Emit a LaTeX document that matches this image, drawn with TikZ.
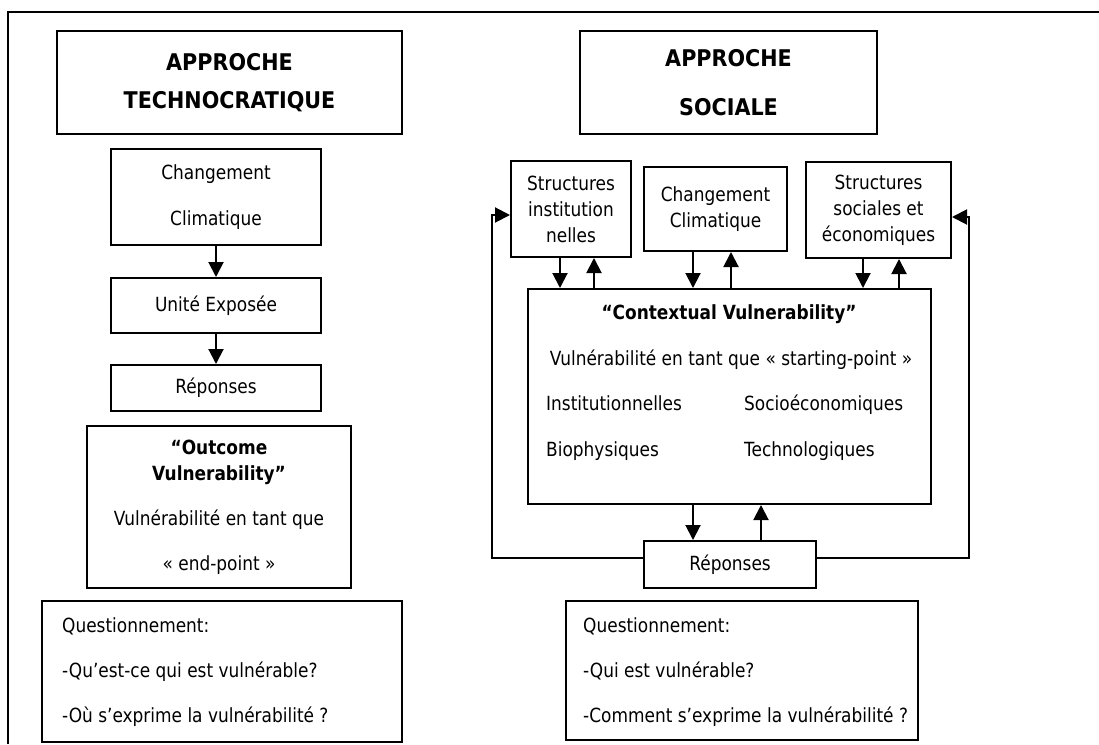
\documentclass[tikz,border=0pt]{standalone}
\usepackage{fontspec}
\setmainfont{DejaVu Sans}[FakeStretch=0.87]
\newfontfamily\titlefont{DejaVu Sans}[FakeStretch=0.9]
\usetikzlibrary{arrows.meta}
\newcommand\txtsize{\fontsize{19.5}{26}\selectfont}
\newcommand\titlesize{\titlefont\fontsize{23}{27.6}\selectfont\bfseries}
\tikzset{
  box/.style={draw, line width=2pt, inner sep=0pt, align=center, font=\txtsize},
  titlebox/.style={box, font=\titlesize},
  txt/.style={inner sep=0pt, font=\txtsize},
  qtxt/.style={txt, anchor=west, align=left},
  arr/.style={line width=2pt, line join=miter, -{Triangle[length=15pt,width=15pt]}},
  frame/.style={line width=2pt, line join=miter}
}
\begin{document}
\begin{tikzpicture}[x=1pt,y=-1pt]
\useasboundingbox (0,0) rectangle (1099,744);
% outer frame (top and left edges)
\draw[frame] (8,744) -- (8,12) -- (1099,12);

% ---- technocratic approach ----
\node[titlebox, minimum width=345pt, minimum height=103pt] (t1) at (229.5,82.5)
  {APPROCHE\\[10pt]TECHNOCRATIQUE};
\node[box, minimum width=210pt, minimum height=96pt] (cc1) at (216,197)
  {Changement\\[20pt]Climatique};
\node[box, minimum width=210pt, minimum height=55pt] (ue1) at (216,305.5)
  {Unité Exposée};
\node[box, minimum width=210pt, minimum height=46pt] (re1) at (216,388)
  {Réponses};
\node[box, minimum width=264pt, minimum height=162pt] (oc1) at (219,507)
  {\bfseries “Outcome\\\bfseries Vulnerability”\\[19pt]Vulnérabilité en tant que\\[19pt]« end-point »};
\node[box, minimum width=360pt, minimum height=141pt] (q1) at (222,671.5) {};
\node[qtxt] (q1t) at (62,672)
  {Questionnement:\\[19pt]-Qu’est-ce qui est vulnérable?\\[19pt]-Où s’exprime la vulnérabilité ?};

\draw[arr] (cc1) -- (ue1);
\draw[arr] (ue1) -- (re1);

% ---- social approach ----
\node[titlebox, minimum width=297pt, minimum height=103pt] (t2) at (728.5,82.5)
  {APPROCHE\\[22pt]SOCIALE};
\node[box, minimum width=120pt, minimum height=96pt] (inst) at (571,209)
  {Structures\\institution\\nelles};
\node[box, minimum width=143pt, minimum height=84pt] (cc2) at (715.5,209)
  {Changement\\Climatique};
\node[box, minimum width=145pt, minimum height=96pt] (soc) at (878.5,210)
  {Structures\\sociales et\\économiques};
\node[box, minimum width=403pt, minimum height=215pt] (ctx) at (729.5,396.5) {};
\node[txt, font=\txtsize\bfseries] (ctxh) at (729,314) {“Contextual Vulnerability”};
\node[txt] (ctxs) at (731,360) {Vulnérabilité en tant que « starting-point »};
\node[txt, anchor=base west] (ins) at (546,410.5) {Institutionnelles};
\node[txt, anchor=base west] (soe) at (744,410.5) {Socioéconomiques};
\node[txt, anchor=base west] (bio) at (546,456) {Biophysiques};
\node[txt, anchor=base west] (tec) at (744,456) {Technologiques};
\node[box, minimum width=172pt, minimum height=47pt] (rep2) at (730,564.5)
  {Réponses};
\node[box, minimum width=352pt, minimum height=139pt] (q2) at (742,670.5) {};
\node[qtxt] (q2t) at (583,672)
  {Questionnement:\\[19pt]-Qui est vulnérable?\\[19pt]-Comment s’exprime la vulnérabilité ?};

% exchanges between the upper boxes and the central box
\coordinate (i1) at ([xshift=-11pt]inst.south);
\coordinate (i2) at ([xshift=23pt]inst.south);
\coordinate (c1) at ([xshift=-22.5pt]cc2.south);
\coordinate (c2) at ([xshift=15.5pt]cc2.south);
\coordinate (s1) at ([xshift=-15.5pt]soc.south);
\coordinate (s2) at ([xshift=20.5pt]soc.south);
\draw[arr] (i1) -- (i1 |- ctx.north);
\draw[arr] (i2 |- ctx.north) -- (i2);
\draw[arr] (c1) -- (c1 |- ctx.north);
\draw[arr] (c2 |- ctx.north) -- (c2);
\draw[arr] (s1) -- (s1 |- ctx.north);
\draw[arr] (s2 |- ctx.north) -- (s2);

% exchanges between the central box and the responses
\coordinate (r1) at ([xshift=-37pt]rep2.north);
\coordinate (r2) at ([xshift=31pt]rep2.north);
\draw[arr] (r1 |- ctx.south) -- (r1);
\draw[arr] (r2) -- (r2 |- ctx.south);

% feedback loops from the responses
\coordinate (fbL) at (492,558);
\coordinate (fbLt) at (492,215);
\coordinate (fbR) at (969,558);
\coordinate (fbRt) at (969,217);
\draw[arr] (rep2.west |- fbL) -- (fbL) -- (fbLt) -- (inst.west |- fbLt);
\draw[arr] (rep2.east |- fbR) -- (fbR) -- (fbRt) -- (soc.east |- fbRt);
\end{tikzpicture}
\end{document}
